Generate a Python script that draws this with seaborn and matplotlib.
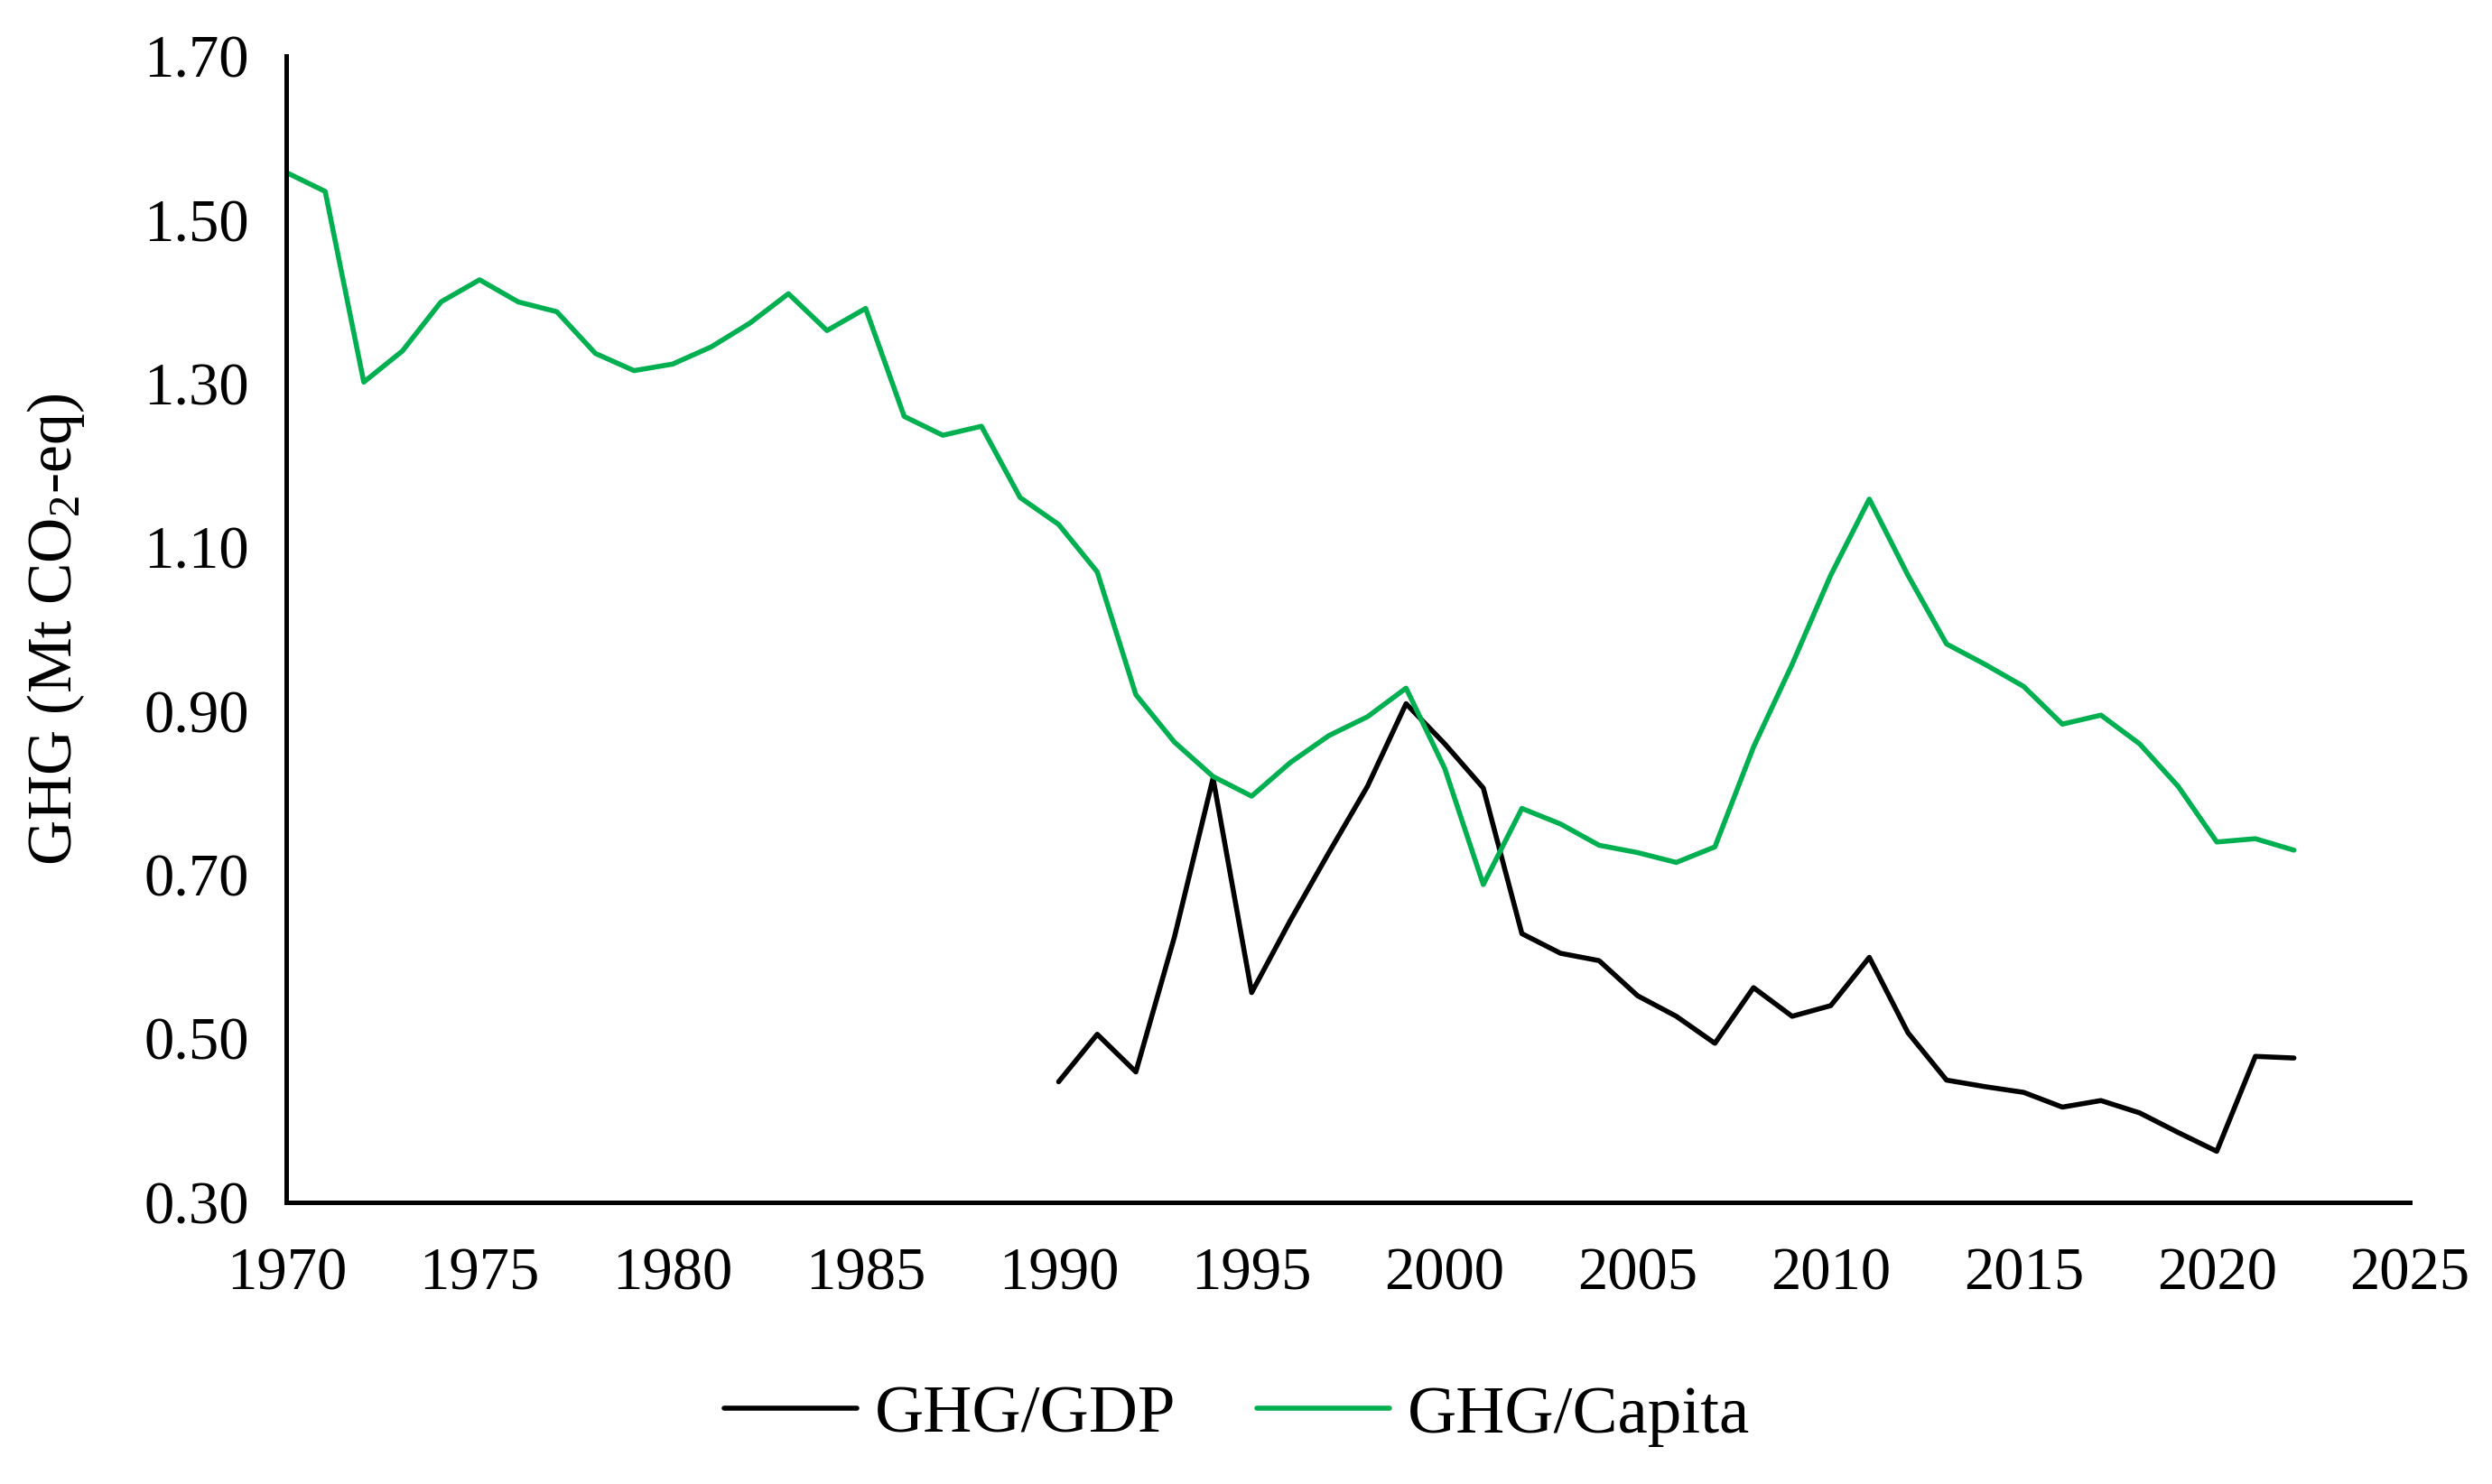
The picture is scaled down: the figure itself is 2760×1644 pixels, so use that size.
import numpy as np
import pandas as pd
import matplotlib
matplotlib.use("Agg")
import matplotlib.pyplot as plt
import seaborn as sns

years_capita = list(range(1970, 2023))
ghg_capita = [1.558, 1.535, 1.302, 1.340, 1.400, 1.427, 1.400, 1.388, 1.337, 1.316,
              1.324, 1.345, 1.374, 1.410, 1.365, 1.392, 1.260, 1.237, 1.248, 1.161,
              1.128, 1.070, 0.920, 0.862, 0.820, 0.796, 0.837, 0.870, 0.893, 0.928,
              0.830, 0.688, 0.781, 0.762, 0.736, 0.727, 0.715, 0.734, 0.856, 0.957,
              1.066, 1.159, 1.066, 0.982, 0.957, 0.930, 0.884, 0.895, 0.860, 0.808,
              0.740, 0.744, 0.730]

years_gdp = list(range(1990, 2023))
ghg_gdp = [0.447, 0.505, 0.459, 0.624, 0.818, 0.556, 0.644, 0.727, 0.808, 0.909,
           0.860, 0.806, 0.628, 0.604, 0.595, 0.552, 0.527, 0.494, 0.562, 0.527,
           0.540, 0.599, 0.507, 0.449, 0.441, 0.434, 0.416, 0.424, 0.409, 0.385,
           0.362, 0.478, 0.476]

series_names = ["GHG/GDP", "GHG/Capita"]
y_ticks = [0.30, 0.50, 0.70, 0.90, 1.10, 1.30, 1.50, 1.70]
x_ticks = list(range(1970, 2030, 5))

df = pd.concat([
    pd.DataFrame({"Year": years_gdp, "Value": ghg_gdp, "Series": series_names[0]}),
    pd.DataFrame({"Year": years_capita, "Value": ghg_capita, "Series": series_names[1]}),
])

sns.set_theme(style="white")
plt.rcParams["font.family"] = ["Liberation Serif", "DejaVu Serif"]
plt.rcParams["mathtext.fontset"] = "custom"
plt.rcParams["mathtext.rm"] = "Liberation Serif"
plt.rcParams["mathtext.it"] = "Liberation Serif:italic"
plt.rcParams["text.color"] = "black"
plt.rcParams["axes.labelcolor"] = "black"

fig = plt.figure(figsize=(27.6, 16.44), dpi=100)
ax = fig.add_axes([0.115, 0.19, 0.852, 0.772])

sns.lineplot(data=df, x="Year", y="Value", hue="Series", hue_order=series_names,
             palette={"GHG/GDP": "#000000", "GHG/Capita": "#00B050"},
             linewidth=4.0, ax=ax, legend=True)
for ln in ax.lines:
    ln.set_solid_joinstyle("round")
    ln.set_solid_capstyle("round")

ax.set_xlim(1970, 2025)
ax.set_ylim(0.30, 1.70)
ax.set_xticks(x_ticks)
ax.set_yticks(y_ticks)
ax.set_yticklabels([f"{v:.2f}" for v in y_ticks])
ax.set_xlabel("")
ax.set_ylabel("")
fig.text(0.0225, 0.19 + 0.772 / 2, r"GHG (Mt CO$_2$-eq)", rotation=90,
         ha="center", va="center", fontsize=50, color="black")
ax.tick_params(axis="both", direction="in", length=15, width=3, labelsize=48,
               colors="black")
ax.tick_params(axis="y", pad=30)
ax.tick_params(axis="x", pad=36)
for s in ["top", "right"]:
    ax.spines[s].set_visible(False)
for s in ["left", "bottom"]:
    ax.spines[s].set_linewidth(3.6)
    ax.spines[s].set_color("black")

handles, labels = ax.get_legend_handles_labels()
ax.get_legend().remove()
leg = fig.legend(handles, labels, loc="center", bbox_to_anchor=(0.4965, 0.046), ncol=2,
                 frameon=False, fontsize=54, handlelength=1.95, columnspacing=1.2,
                 handletextpad=0.27)
for t in leg.get_texts():
    t.set_color("black")

fig.savefig("out.png", dpi=100, facecolor="white")
